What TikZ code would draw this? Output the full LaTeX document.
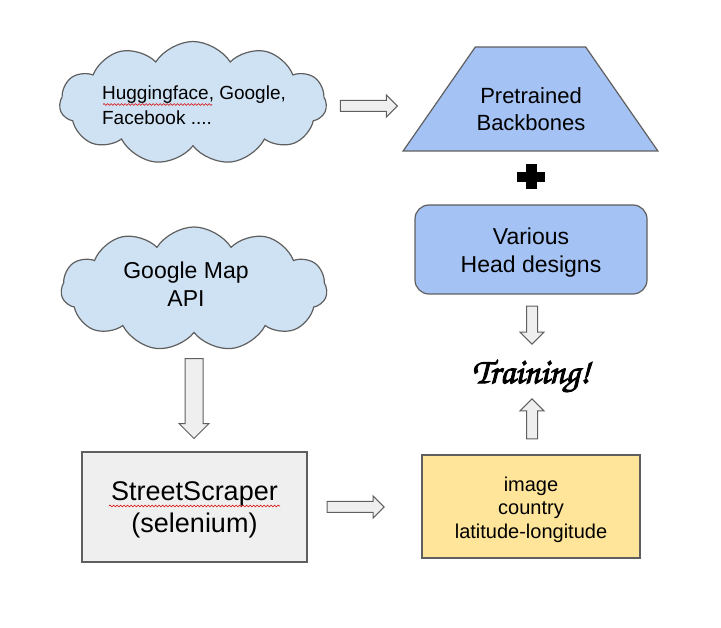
\documentclass[tikz,border=0pt]{standalone}
\usepackage{fontspec}
\setmainfont{Liberation Sans}
\newfontfamily\trainfont[FakeBold=2.5]{TeX Gyre Chorus}
\usetikzlibrary{shapes.symbols,shapes.geometric,shapes.arrows,calc,decorations.pathmorphing}

\definecolor{cloudblue}{HTML}{CFE2F3}
\definecolor{modelblue}{HTML}{A4C2F4}
\definecolor{datayellow}{HTML}{FFE599}
\definecolor{boxgray}{HTML}{EFEFEF}
\definecolor{edgegray}{HTML}{5F5F5F}

\tikzset{
  cloudbox/.style={cloud,cloud puffs=11,cloud puff arc=115,cloud ignores aspect,
    draw=edgegray,fill=cloudblue,line width=1.2pt},
  blockarrow/.style={single arrow,draw=edgegray,fill=boxgray,line width=1pt,inner xsep=0pt},
  spellmark/.style={draw=red!85!black,line width=0.6pt,decorate,
    decoration={snake,amplitude=0.9pt,segment length=3.5pt}}
}

\begin{document}
\begin{tikzpicture}[x=1pt,y=-1pt]

      \useasboundingbox (0,0) rectangle (721,628);

      \begin{scope}[every node/.style={cloudbox}]
        \node[minimum width=267pt,minimum height=123pt] (cloudHF) at (193,103) {};
        \node[minimum width=266pt,minimum height=124pt] (cloudGM) at (194,289) {};
      \end{scope}

      \begin{scope}[every node/.style={draw=edgegray,line width=1.2pt}]
        \node[trapezium,trapezium angle=56.8,trapezium stretches=true,fill=modelblue,
              minimum width=255pt,minimum height=104pt] (trap) at (530.5,99) {};
        \node[rectangle,rounded corners=14pt,fill=modelblue,minimum width=232pt,minimum height=89pt] (heads) at (531,249.5) {};
        \node[rectangle,fill=datayellow,minimum width=218pt,minimum height=103pt] (data) at (531,506.5) {};
        \node[rectangle,fill=boxgray,minimum width=225pt,minimum height=110pt] (scraper) at (194.5,507) {};
      \end{scope}

      \node[font=\fontsize{19}{25}\selectfont,align=left] (txtHF) at (194,105) {Huggingface, Google,\\Facebook ....};
      \node[font=\fontsize{23}{28}\selectfont,align=center] (txtGM) at (186,284) {Google Map\\API};
      \node[font=\fontsize{22}{27}\selectfont,align=center] (txtBB) at (531,109) {Pretrained\\Backbones};
      \node[font=\fontsize{23}{28}\selectfont,align=center] (txtHD) at (531,252.5) {Various\\Head designs};
      \node[font=\fontsize{20}{23.5}\selectfont,align=center] (txtDT) at (531,509.5) {image\\country\\latitude-longitude};
      \node[font=\fontsize{27}{32}\selectfont,align=center] (txtSC) at (194.5,510) {StreetScraper\\(selenium)};
      \node[font=\trainfont\fontsize{36}{40}\selectfont] (train) at (531,376) {Training!};

      \draw[spellmark] (103,104.5) -- (212,104.5);
      \draw[spellmark] (109,506) -- (280,506);

      \coordinate (plus) at (531,177);
      \draw[line width=10pt] ($(plus)+(-14,0)$) -- ($(plus)+(14,0)$);
      \draw[line width=11pt] ($(plus)+(0,-12.5)$) -- ($(plus)+(0,12.5)$);

      \begin{scope}[every node/.style={blockarrow}]
        \node[anchor=west,minimum height=57pt,minimum width=21pt,inner ysep=5pt,single arrow head extend=5.5pt]
          (arrHF) at ($(cloudHF.east)+(13,3)$) {};
        \node[anchor=west,minimum height=57pt,minimum width=21pt,inner ysep=5pt,single arrow head extend=5.5pt]
          (arrSC) at ($(scraper.east)+(19,0)$) {};
        \node[anchor=west,rotate=-90,minimum height=80pt,minimum width=29pt,inner ysep=8.5pt,single arrow head extend=6pt]
          (arrGM) at ($(cloudGM.center)+(0,69)$) {};
        \node[anchor=west,rotate=-90,minimum height=38pt,minimum width=23pt,inner ysep=5pt,single arrow head extend=6.5pt]
          (arrHD) at ($(heads.south)+(1,11)$) {};
        \node[anchor=west,rotate=90,minimum height=40pt,minimum width=23pt,inner ysep=5pt,single arrow head extend=6.5pt]
          (arrDT) at ($(data.north)+(1,-15)$) {};
      \end{scope}

    \end{tikzpicture}
\end{document}
